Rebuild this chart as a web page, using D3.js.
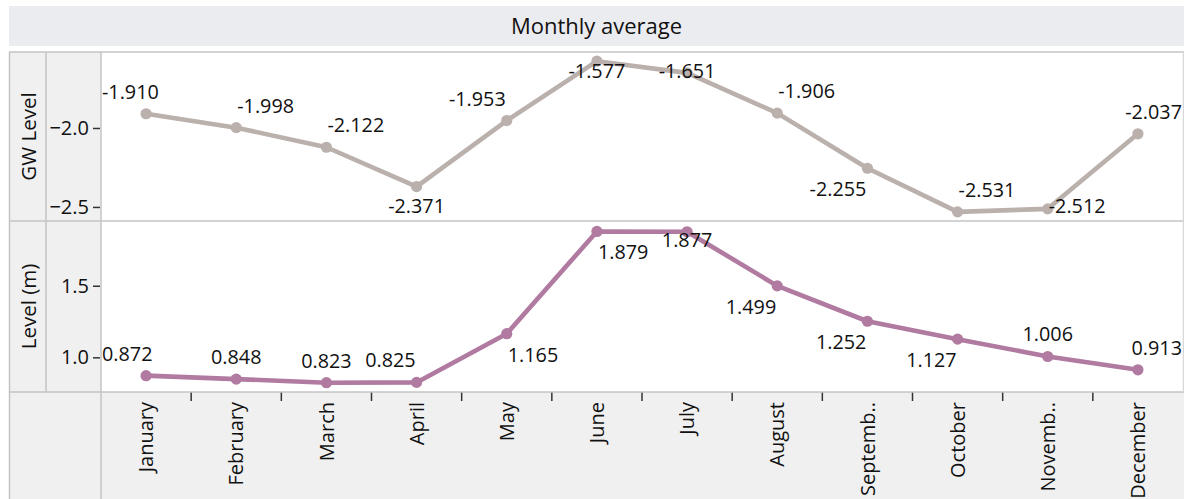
<!DOCTYPE html>
<html><head><meta charset="utf-8">
<script src="https://cdn.jsdelivr.net/npm/d3@7"></script>
<style>body{margin:0;background:#fff}svg{display:block}text{font-family:"Open Sans","Noto Sans",sans-serif;fill:#111}</style>
</head><body><svg id="c" width="1184" height="499"></svg>
<script>
// ---- data ----
const months = ["January","February","March","April","May","June","July","August","September","October","November","December"];
const monthLabels = ["January","February","March","April","May","June","July","August","Septemb..","October","Novemb..","December"];
const gwLevel = [-1.910,-1.998,-2.122,-2.371,-1.953,-1.577,-1.651,-1.906,-2.255,-2.531,-2.512,-2.037];
const levelM = [0.872,0.848,0.823,0.825,1.165,1.879,1.877,1.499,1.252,1.127,1.006,0.913];
const gwTicks = [-2.5,-2.0];
const levelTicks = [1.0,1.5];
const gwDomain = [-2.589,-1.519];
const levelDomain = [0.758,1.952];
const title = "Monthly average";
const rowTitles = ["GW Level","Level (m)"];
// label placement (side-anchor)
const gwLabelPlace = ["above-end","above-start","above-start","below-middle","above-end","above-middle","above-middle","above-start","below-end","above-start","below-start","above-start"];
const levelLabelPlace = ["above-end","above-middle","above-middle","above-end","below-start","below-start","above-middle","below-end","below-end","below-end","above-middle","above-start"];

// ---- layout ----
const W = 1184, H = 499;
const xL0 = 9, xL1 = 46, xPlot = 101, xRight = 1183;
const hdrTop = 6, hdrBot = 46;
const panes = [
  {top:52, bot:221, values:gwLevel, domain:gwDomain, ticks:gwTicks, color:"#bab0ac", place:gwLabelPlace, title:rowTitles[0]},
  {top:221, bot:392, values:levelM, domain:levelDomain, ticks:levelTicks, color:"#b07aa1", place:levelLabelPlace, title:rowTitles[1]}
];
const axisTop = 392;
const grid = "#c4c4c4", panel = "#f0f0f0";

const svg = d3.select("#c");
const x = d3.scaleBand().domain(months).range([xPlot, xRight]).paddingInner(0).paddingOuter(0);

// header
svg.append("rect").attr("x", xL0).attr("y", hdrTop).attr("width", W - xL0).attr("height", hdrBot - hdrTop).attr("fill", "#ebecf0");
svg.append("text").attr("x", (xL0 + W) / 2).attr("y", (hdrTop + hdrBot) / 2).attr("dy", "0.36em")
  .attr("text-anchor", "middle").style("font-size", "22px").text(title);

// left panels and bottom axis area backgrounds
svg.append("rect").attr("x", xL0).attr("y", panes[0].top).attr("width", xPlot - xL0).attr("height", axisTop - panes[0].top).attr("fill", panel);
svg.append("rect").attr("x", xL0).attr("y", axisTop).attr("width", W - xL0).attr("height", H - axisTop).attr("fill", panel);
svg.append("rect").attr("x", xPlot).attr("y", panes[0].top).attr("width", xRight - xPlot).attr("height", axisTop - panes[0].top).attr("fill", "#fff");

panes.forEach(p => {
  const y = d3.scaleLinear().domain(p.domain).range([p.bot, p.top]);
  // row title
  svg.append("text").attr("transform", `translate(${(xL0 + xL1) / 2 + 1},${(p.top + p.bot) / 2}) rotate(-90)`)
    .attr("dy", "0.36em").attr("text-anchor", "middle").style("font-size", "20.5px").text(p.title);
  // y axis
  const ax = svg.append("g").attr("transform", `translate(${xPlot - 1},0)`)
    .call(d3.axisLeft(y).tickValues(p.ticks).tickFormat(d3.format(".1f")).tickSize(7).tickPadding(4));
  ax.select(".domain").remove();
  ax.selectAll(".tick line").attr("stroke", "#333").attr("stroke-width", 1.5);
  ax.selectAll(".tick text").style("font-size", "20px").style("font-family", '"Open Sans",sans-serif').attr("fill", "#111");

  // line
  const line = d3.line().x((d, i) => x(months[i]) + x.bandwidth() / 2).y(d => y(d));
  svg.append("path").datum(p.values).attr("d", line).attr("fill", "none")
    .attr("stroke", p.color).attr("stroke-width", 4.6).attr("stroke-linejoin", "round");
  svg.append("g").selectAll("circle").data(p.values).join("circle")
    .attr("cx", (d, i) => x(months[i]) + x.bandwidth() / 2).attr("cy", d => y(d)).attr("r", 5.6).attr("fill", p.color);

  // labels
  const lg = svg.append("g");
  p.values.forEach((v, i) => {
    const cx = x(months[i]) + x.bandwidth() / 2, cy = y(v);
    const [side, anchor] = p.place[i].split("-");
    const t = lg.append("text").style("font-size", "19.8px").text(d3.format(".3f")(v).replace("−", "-"));
    const w = t.node().getComputedTextLength();
    let left = anchor === "start" ? cx + 1 : anchor === "end" ? cx - 1 - w : cx - w / 2;
    left = Math.max(xPlot + 1, Math.min(xRight - 1 - w, left));
    let base = side === "above" ? cy - 15 : cy + 28;
    base = Math.max(p.top + 26, Math.min(p.bot - 8, base));
    t.attr("x", left).attr("y", base);
  });
});

// x axis labels and ticks
months.forEach((m, i) => {
  const cx = x(m) + x.bandwidth() / 2;
  svg.append("text").attr("transform", `translate(${cx},${axisTop + 10}) rotate(-90)`)
    .attr("dy", "0.36em").attr("text-anchor", "end").style("font-size", "20px").text(monthLabels[i]);
});
svg.append("g").selectAll("line").data(d3.range(1, months.length)).join("line")
  .attr("x1", i => xPlot + x.step() * i).attr("x2", i => xPlot + x.step() * i)
  .attr("y1", axisTop).attr("y2", axisTop + 9).attr("stroke", "#333").attr("stroke-width", 1.5);

// borders
const b = svg.append("g").attr("stroke", grid).attr("stroke-width", 1.5).attr("fill", "none");
b.append("line").attr("x1", xL0).attr("x2", W).attr("y1", panes[0].top).attr("y2", panes[0].top);
b.append("line").attr("x1", xL0).attr("x2", W).attr("y1", panes[1].top).attr("y2", panes[1].top);
b.append("line").attr("x1", xL0).attr("x2", W).attr("y1", axisTop).attr("y2", axisTop);
b.append("line").attr("x1", xL0 + 0.5).attr("x2", xL0 + 0.5).attr("y1", panes[0].top).attr("y2", H);
b.append("line").attr("x1", xL1).attr("x2", xL1).attr("y1", panes[0].top).attr("y2", axisTop);
b.append("line").attr("x1", xPlot).attr("x2", xPlot).attr("y1", panes[0].top).attr("y2", H);
b.append("line").attr("x1", xRight + 0.5).attr("x2", xRight + 0.5).attr("y1", panes[0].top).attr("y2", axisTop).attr("stroke", "#d8d8d8");
</script></body></html>
